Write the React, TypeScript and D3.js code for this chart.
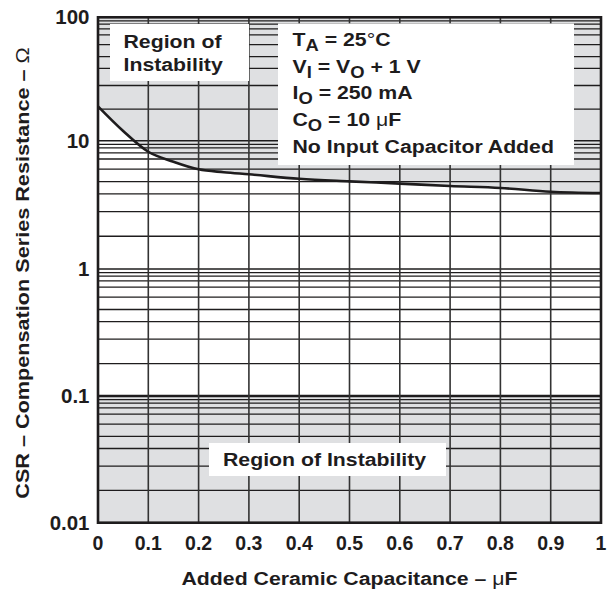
import React from "react";
import * as d3 from "d3";

// ---- data ----
const capacitance = [0, 0.05, 0.1, 0.15, 0.2, 0.25, 0.3, 0.4, 0.5, 0.6, 0.7, 0.8, 0.9, 1.0];
const csrBoundary = [19, 12, 8.2, 6.86, 5.98, 5.68, 5.47, 5.05, 4.82, 4.63, 4.43, 4.28, 4.0, 3.91];
const xTicks = [0, 0.1, 0.2, 0.3, 0.4, 0.5, 0.6, 0.7, 0.8, 0.9, 1];
const xTickLabels = ["0", "0.1", "0.2", "0.3", "0.4", "0.5", "0.6", "0.7", "0.8", "0.9", "1"];
const yDecades = [0.01, 0.1, 1, 10, 100];
const yTickLabels = ["0.01", "0.1", "1", "10", "100"];
const minorMultipliers = [1.8, 2.8, 3.85, 4.8, 6, 7.2, 8.05, 8.8, 9.35];
const lowerStableLimit = 0.1;

const W = 608;
const H = 590;
const FONT = "'Liberation Sans', Arial, Helvetica, sans-serif";
const INK = "#1e1c1d";
const GREY = "#dfe0e2";
const SX = 1.15;
const FS = 18.5;

const txt = {
  fontFamily: FONT,
  fontWeight: 700 as const,
  fill: INK,
};

function T(props: {
  x: number;
  y: number;
  sx?: number;
  rotate?: number;
  size?: number;
  anchor?: "start" | "middle" | "end";
  children: React.ReactNode;
}) {
  const { x, y, sx = SX, rotate = 0, size = FS, anchor = "start", children } = props;
  return (
    <g transform={`translate(${x},${y}) rotate(${rotate}) scale(${sx},1)`}>
      <text {...txt} fontSize={size} x={0} y={0} textAnchor={anchor}>
        {children}
      </text>
    </g>
  );
}

export default function App() {
  const x = d3.scaleLinear().domain([0, 1]).range([98, 601]);
  const y = d3
    .scaleLog()
    .domain(yDecades)
    .range([522.7, 396, 269, 140.7, 17.3]);

  const minorVals: number[] = [];
  for (let i = 0; i < yDecades.length - 1; i++) {
    for (const m of minorMultipliers) minorVals.push(yDecades[i] * m);
  }

  const pts = capacitance.map((c, i) => [c, csrBoundary[i]] as [number, number]);
  const line = d3
    .line<[number, number]>()
    .x((d) => x(d[0]))
    .y((d) => y(d[1]))
    .curve(d3.curveMonotoneX);
  const upperArea = d3
    .area<[number, number]>()
    .x((d) => x(d[0]))
    .y0(y(100))
    .y1((d) => y(d[1]))
    .curve(d3.curveMonotoneX);

  const [x0, x1] = x.range();
  const yTop = y(100);
  const yBot = y(0.01);

  const lx = 292.5;
  const ly0 = 46;
  const lstep = 26.7;
  const subFs = 16;
  const subDy = 5;

  return (
    <svg
      width={W}
      height={H}
      style={{ position: "absolute", left: 0, top: 0, background: "#fff" }}
    >
      <rect x={0} y={0} width={W} height={H} fill="#fff" />
      {/* unstable regions */}
      <path d={upperArea(pts) || ""} fill={GREY} />
      <rect
        x={x0}
        y={y(lowerStableLimit)}
        width={x1 - x0}
        height={yBot - y(lowerStableLimit)}
        fill={GREY}
      />
      {/* horizontal grid */}
      {minorVals.map((v, i) => (
        <line key={"m" + i} x1={x0} x2={x1} y1={y(v)} y2={y(v)} stroke={INK} strokeWidth={1.3} />
      ))}
      {yDecades.map((v, i) => (
        <line
          key={"d" + i}
          x1={x0}
          x2={x1}
          y1={y(v)}
          y2={y(v)}
          stroke={INK}
          strokeWidth={v === lowerStableLimit ? 2.6 : 1.4}
        />
      ))}
      {/* vertical grid */}
      {xTicks.map((v, i) => (
        <line key={"v" + i} x1={x(v)} x2={x(v)} y1={yTop} y2={yBot} stroke="#333" strokeWidth={1.6} />
      ))}
      {/* boundary curve */}
      <path d={line(pts) || ""} fill="none" stroke={INK} strokeWidth={2.6} />

      {/* annotation boxes */}
      <rect x={110} y={24} width={139} height={57} fill="#fff" />
      <rect x={278} y={23.5} width={296} height={141.5} fill="#fff" />
      <rect x={209} y={443} width={237} height={33} fill="#fff" />

      <T x={123.5} y={47.5}>Region of</T>
      <T x={123.5} y={71}>Instability</T>
      <T x={223} y={466}>Region of Instability</T>

      <T x={lx} y={ly0}>
        T<tspan fontSize={subFs} dy={subDy}>A</tspan>
        <tspan dy={-subDy}> = 25</tspan>
        <tspan fontWeight={400}>°</tspan>C
      </T>
      <T x={lx} y={ly0 + lstep}>
        V<tspan fontSize={subFs} dy={subDy}>I</tspan>
        <tspan dy={-subDy}> = V</tspan>
        <tspan fontSize={subFs} dy={subDy}>O</tspan>
        <tspan dy={-subDy}> + 1 V</tspan>
      </T>
      <T x={lx} y={ly0 + lstep * 2}>
        I<tspan fontSize={subFs} dy={subDy}>O</tspan>
        <tspan dy={-subDy}> = 250 mA</tspan>
      </T>
      <T x={lx} y={ly0 + lstep * 3}>
        C<tspan fontSize={subFs} dy={subDy}>O</tspan>
        <tspan dy={-subDy}> = 10 </tspan>
        <tspan fontWeight={400}>μ</tspan>F
      </T>
      <T x={lx} y={ly0 + lstep * 4}>No Input Capacitor Added</T>

      {/* frame */}
      <rect x={x0} y={yTop} width={x1 - x0} height={yBot - yTop} fill="none" stroke={INK} strokeWidth={2.6} />

      {/* y ticks */}
      {yDecades.map((v, i) => (
        <T key={"yl" + i} x={89.5} y={y(v) + 7} size={19.5} sx={1.05} anchor="end">
          {yTickLabels[i]}
        </T>
      ))}
      {/* x ticks */}
      {xTicks.map((v, i) => (
        <T key={"xl" + i} x={x(v)} y={550} size={19.5} sx={1.0} anchor="middle">
          {xTickLabels[i]}
        </T>
      ))}
      {/* axis titles */}
      <T x={(x0 + x1) / 2} y={584.5} anchor="middle">
        Added Ceramic Capacitance – <tspan fontWeight={400}>μ</tspan>F
      </T>
      <T x={29} y={273} rotate={-90} sx={1.17} anchor="middle">
        CSR – Compensation Series Resistance – <tspan fontWeight={400}>Ω</tspan>
      </T>
    </svg>
  );
}
